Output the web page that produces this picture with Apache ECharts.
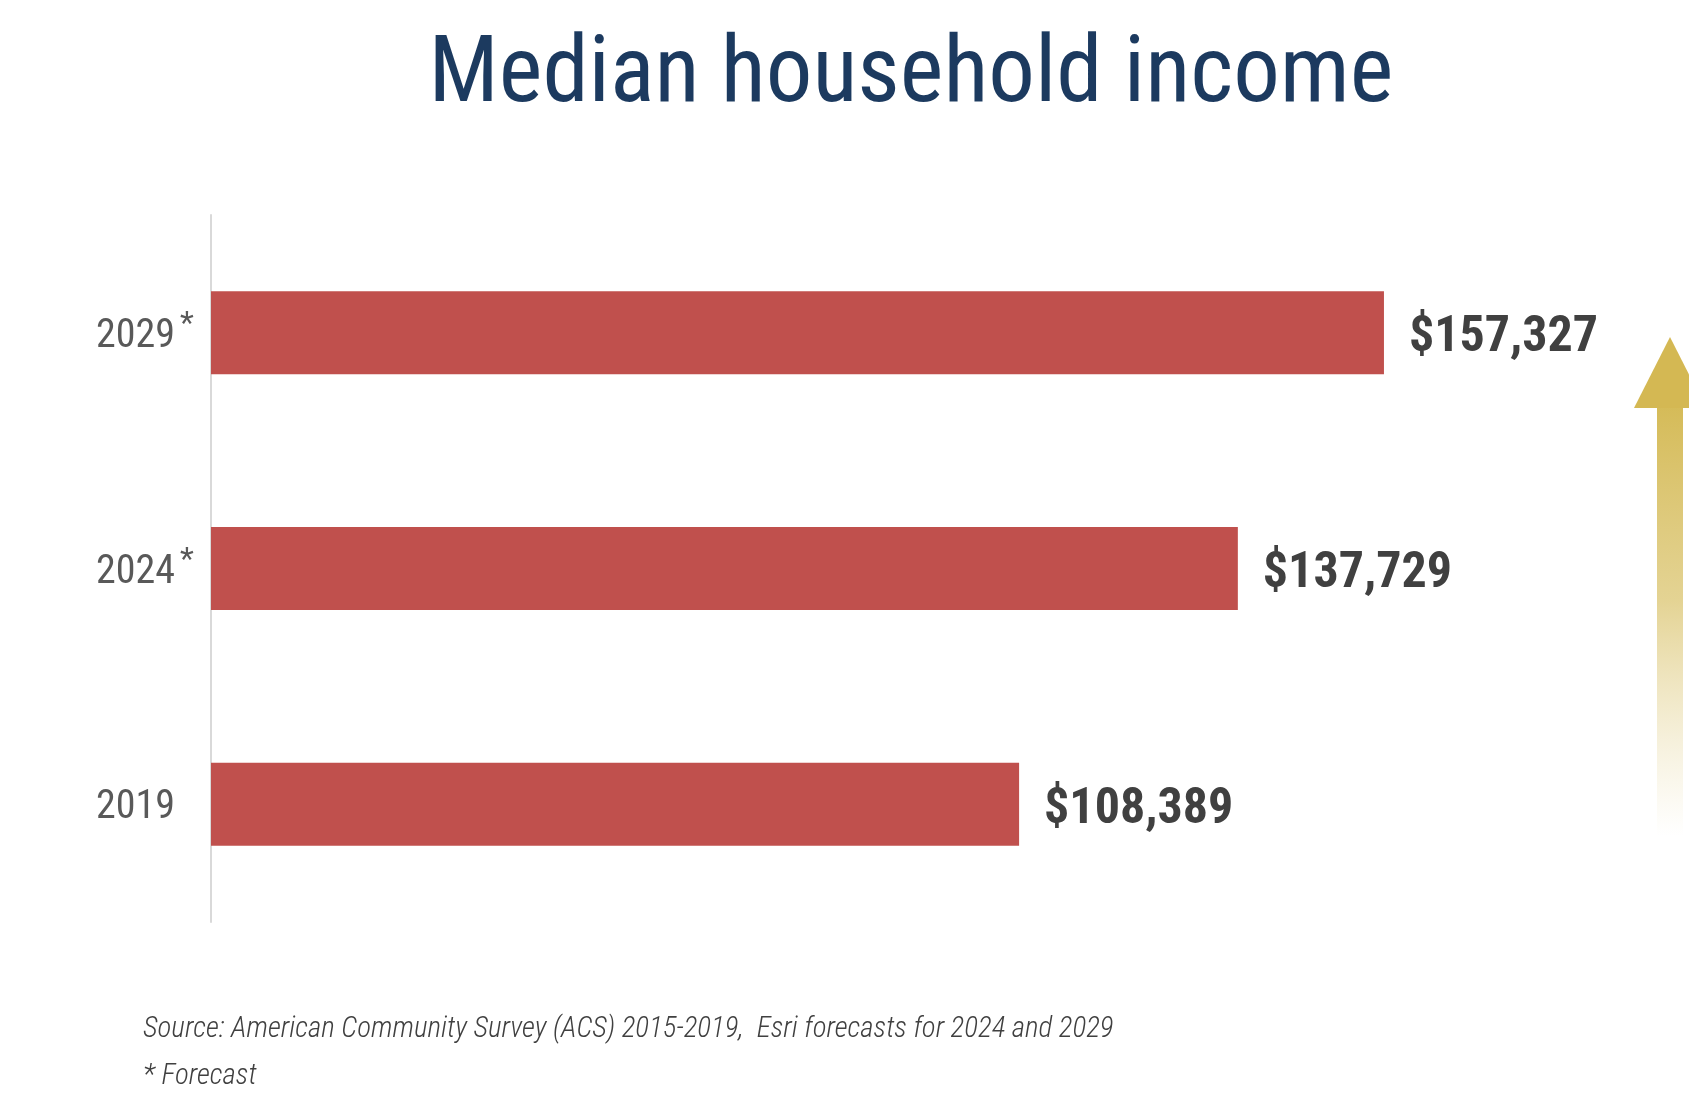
<!DOCTYPE html>
<html>
<head>
<meta charset="utf-8">
<title>Median household income</title>
<script src="https://cdn.jsdelivr.net/npm/echarts@6/dist/echarts.min.js"></script>
<style>
  html, body { margin: 0; padding: 0; background: #ffffff; }
  #chart { width: 1689px; height: 1096px; }
</style>
</head>
<body>
<div id="chart"></div>
<script>
// Years (bottom to top) and median household income in dollars
const years = ['2019', '2024*', '2029*'];
const incomes = [108389, 137729, 157327];
const sourceNote = 'Source: American Community Survey (ACS) 2015-2019,  Esri forecasts for 2024 and 2029';
const forecastNote = '* Forecast';

const NARROW = "'Liberation Sans Narrow', 'Arial Narrow', 'Roboto Condensed', 'Liberation Sans', sans-serif";

const chart = echarts.init(document.getElementById('chart'), null, { renderer: 'canvas' });

const fmt = v => '$' + v.toLocaleString('en-US');

// year label with a small raised asterisk for forecast years
const yearLabel = v => {
  const star = v.endsWith('*');
  const year = star ? v.slice(0, -1) : v;
  return star ? '{y|' + year + '}{s|*}' : '{y|' + year + '}';
};

chart.setOption({
  backgroundColor: '#ffffff',
  animation: false,
  title: {
    text: 'Median household income',
    left: 906,
    textAlign: 'center',
    top: 26,
    textStyle: {
      fontFamily: NARROW,
      fontWeight: 'normal',
      fontSize: 93,
      color: '#1c3a5f'
    }
  },
  grid: { left: 211, right: 136, top: 215, bottom: 174, containLabel: false },
  xAxis: {
    type: 'value',
    min: 0,
    max: 180000,
    show: false
  },
  yAxis: {
    type: 'category',
    data: years,
    axisLine: { show: true, lineStyle: { color: '#d9d9d9', width: 2 } },
    axisTick: { show: false },
    splitLine: { show: false },
    axisLabel: {
      align: 'left',
      margin: 115,
      formatter: yearLabel,
      rich: {
        y: {
          fontFamily: NARROW,
          fontSize: 40,
          color: '#595959',
          lineHeight: 48,
          padding: [8, 0, 0, 0]
        },
        s: {
          fontFamily: NARROW,
          fontSize: 32,
          color: '#595959',
          verticalAlign: 'top',
          lineHeight: 48,
          padding: [0, 0, 0, 5]
        }
      }
    }
  },
  series: [{
    type: 'bar',
    data: incomes,
    barWidth: 83,
    itemStyle: { color: '#c0504d' },
    label: {
      show: true,
      position: 'right',
      distance: 25,
      offset: [0, 6],
      formatter: p => fmt(p.value),
      fontFamily: NARROW,
      fontWeight: 'bold',
      fontSize: 50,
      color: '#404040'
    }
  }],
  graphic: [
    // rising arrow on the right edge
    {
      type: 'rect',
      shape: { x: 1657, y: 406, width: 26, height: 430 },
      style: {
        fill: new echarts.graphic.LinearGradient(0, 0, 0, 1, [
          { offset: 0, color: 'rgba(213,187,88,1)' },
          { offset: 0.45, color: 'rgba(221,200,120,0.8)' },
          { offset: 1, color: 'rgba(230,215,160,0)' }
        ])
      }
    },
    {
      type: 'polygon',
      shape: { points: [[1670, 337], [1634, 408], [1706, 408]] },
      style: { fill: '#d4b853' }
    },
    {
      type: 'text',
      left: 143,
      top: 1015,
      style: {
        text: sourceNote,
        fontFamily: NARROW,
        fontStyle: 'italic',
        fontWeight: 300,
        fontSize: 29,
        fill: '#404040'
      }
    },
    {
      type: 'text',
      left: 143,
      top: 1062,
      style: {
        text: forecastNote,
        fontFamily: NARROW,
        fontStyle: 'italic',
        fontWeight: 300,
        fontSize: 29,
        fill: '#404040'
      }
    }
  ]
});
</script>
</body>
</html>
